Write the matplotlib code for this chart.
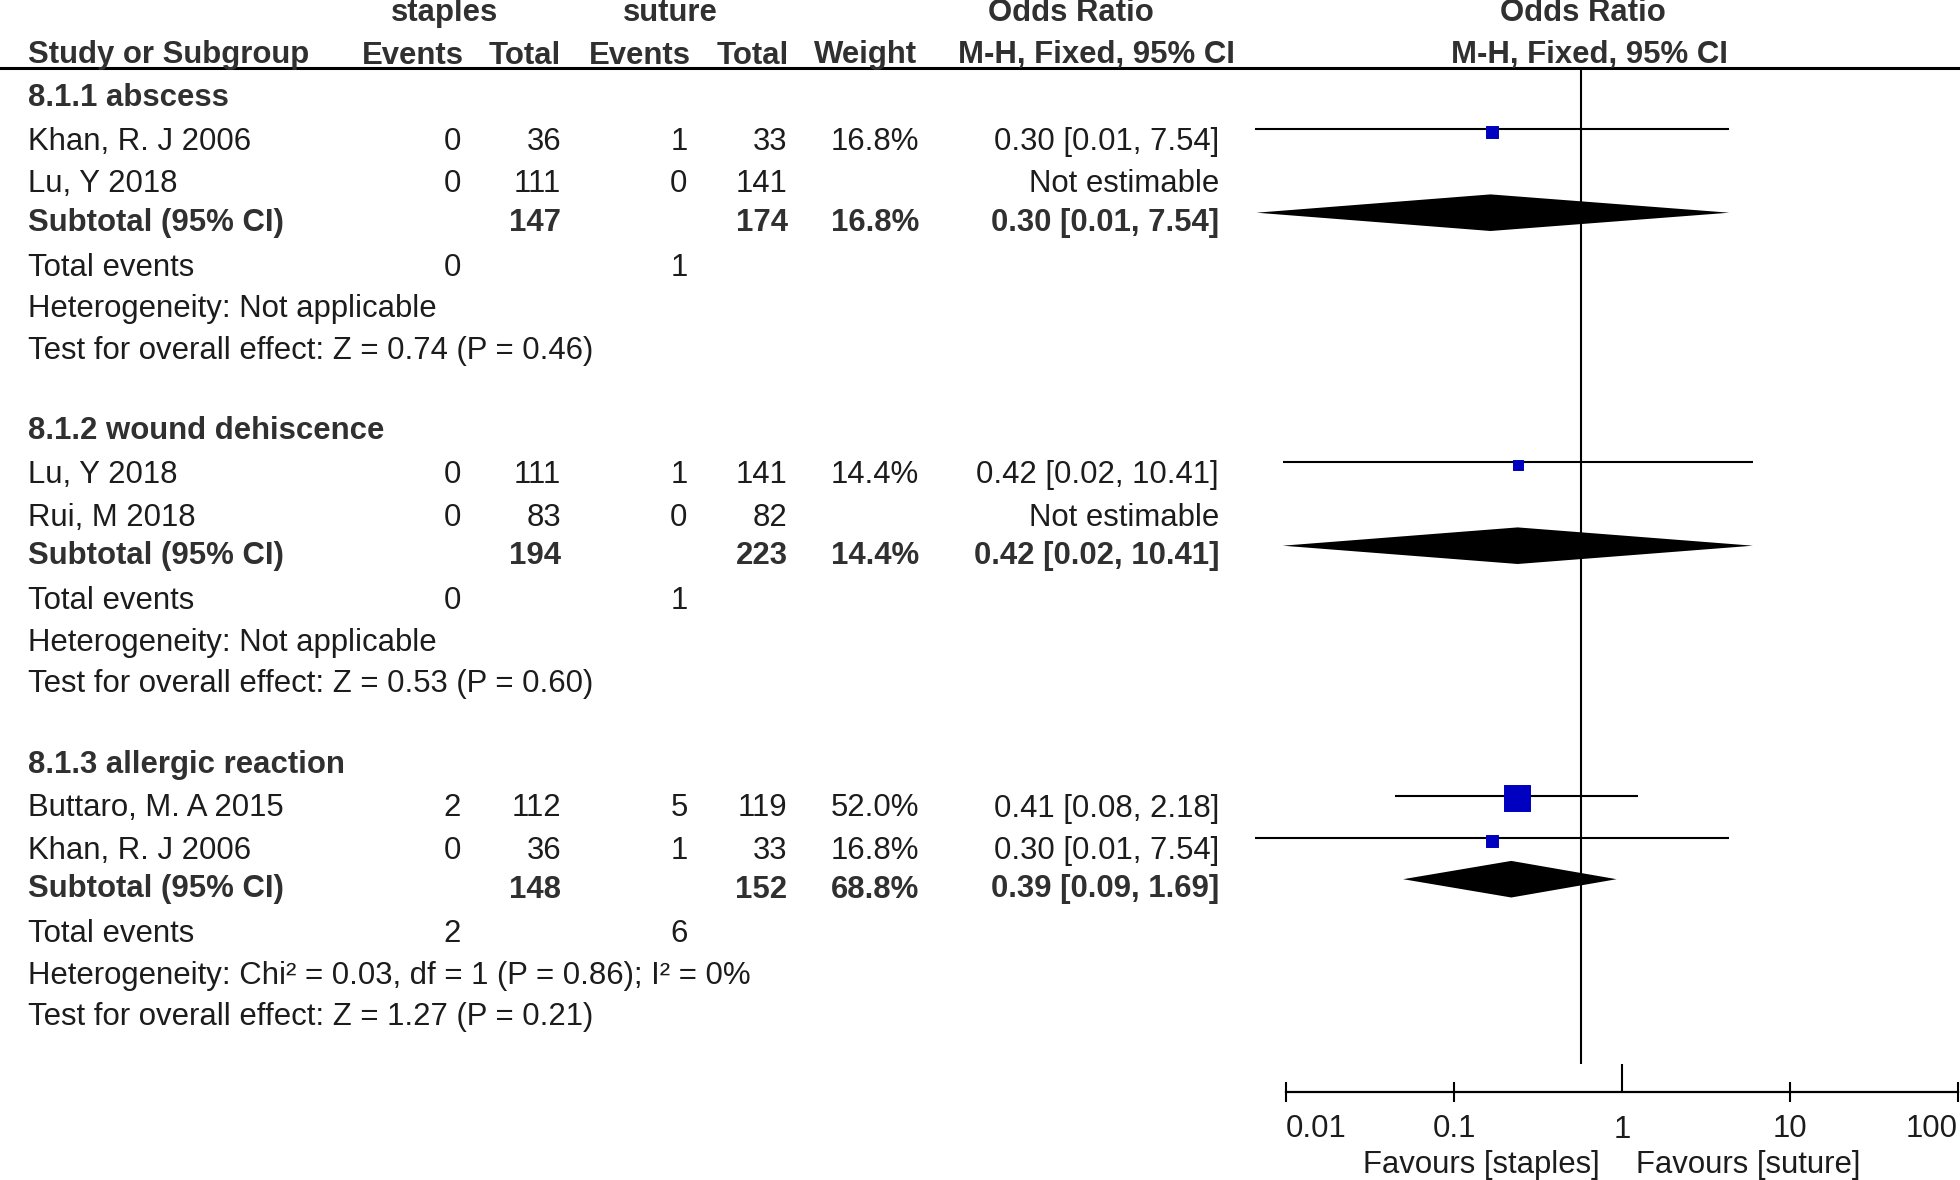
import matplotlib
matplotlib.use('Agg')
import matplotlib.pyplot as plt
from matplotlib.ticker import FixedLocator, FixedFormatter

plt.rcParams['font.family'] = ['Liberation Sans', 'DejaVu Sans']

# --- data ---
group_titles = ['8.1.1 abscess', '8.1.2 wound dehiscence', '8.1.3 allergic reaction']

study_group = [0, 0, 1, 1, 2, 2]
study_label = ['Khan, R. J 2006', 'Lu, Y 2018', 'Lu, Y 2018', 'Rui, M 2018',
               'Buttaro, M. A 2015', 'Khan, R. J 2006']
staples_events = [0, 0, 0, 0, 2, 0]
staples_total = [36, 111, 111, 83, 112, 36]
suture_events = [1, 0, 1, 0, 5, 1]
suture_total = [33, 141, 141, 82, 119, 33]
study_weight = [16.8, None, 14.4, None, 52.0, 16.8]
study_or = [0.297, None, 0.42, None, 0.414, 0.297]
study_lo = [0.0117, None, 0.0170, None, 0.079, 0.0117]
study_hi = [7.54, None, 10.41, None, 2.18, 7.54]
study_or_text = ['0.30 [0.01, 7.54]', 'Not estimable', '0.42 [0.02, 10.41]',
                 'Not estimable', '0.41 [0.08, 2.18]', '0.30 [0.01, 7.54]']

sub_staples_total = [147, 194, 148]
sub_suture_total = [174, 223, 152]
sub_weight = ['16.8%', '14.4%', '68.8%']
sub_or = [0.29, 0.42, 0.385]
sub_lo = [0.0119, 0.0170, 0.088]
sub_hi = [7.54, 10.41, 1.62]
sub_or_text = ['0.30 [0.01, 7.54]', '0.42 [0.02, 10.41]', '0.39 [0.09, 1.69]']
events_staples = [0, 0, 2]
events_suture = [1, 1, 6]
heterogeneity = ['Not applicable', 'Not applicable',
                 'Chi² = 0.03, df = 1 (P = 0.86); I² = 0%']
overall_test = ['Z = 0.74 (P = 0.46)', 'Z = 0.53 (P = 0.60)', 'Z = 1.27 (P = 0.21)']

scale_ticks = [0.01, 0.1, 10, 100]
scale_labels = ['0.01', '0.1', '10', '100']

# --- layout (pixels) ---
W, H = 1960, 1180
FS = 22.4
TEXT = '#1c1c1c'
BOLD_TEXT = '#303030'
BLUE = '#0000C0'
X_STUDY = 27.5
X_EV1, X_TOT1, X_EV2, X_TOT2, X_WEIGHT, X_OR = 461, 561, 687.5, 787.5, 919, 1219
group_top = [96, 429, 762.5]
block_offsets = [0, 44, 86.5, 125, 170, 211.5, 253]
BASE_DY = 10      # baseline below row centre
LINE_DY = 11      # CI line above row centre
BOX_DY = 8.5
DIAMOND_DY = 8.3
DIAMOND_H = 18.3

fig = plt.figure(figsize=(W / 100, H / 100), dpi=100)
tab = fig.add_axes([0, 0, 1, 1])
tab.set_xlim(0, W)
tab.set_ylim(H, 0)
tab.axis('off')

# forest panel: 0.01..100 on a log axis
fa = fig.add_axes([1243.75 / W, 0, 675 / W, 1])
fa.set_xscale('log')
fa.set_xlim(0.01, 100)
fa.set_ylim(H, 0)
fa.axis('off')
fa.patch.set_visible(False)


def txt(x, y, s, ha='left', bold=False, base=None):
    yb = y + BASE_DY if base is None else base
    tab.text(x, yb, s, ha=ha, va='baseline', fontsize=FS,
             color=BOLD_TEXT if bold else TEXT,
             fontweight='bold' if bold else 'normal')


# headers
txt(445, 0, 'staples', ha='center', bold=True, base=20.7)
txt(670, 0, 'suture', ha='center', bold=True, base=20.7)
txt(1071, 0, 'Odds Ratio', ha='center', bold=True, base=20.7)
txt(1583, 0, 'Odds Ratio', ha='center', bold=True, base=20.7)
txt(X_STUDY, 0, 'Study or Subgroup', bold=True, base=63.5)
txt(464, 0, 'Events', ha='right', bold=True, base=63.5)
txt(561, 0, 'Total', ha='right', bold=True, base=63.5)
txt(691, 0, 'Events', ha='right', bold=True, base=63.5)
txt(789, 0, 'Total', ha='right', bold=True, base=63.5)
txt(917.5, 0, 'Weight', ha='right', bold=True, base=63.5)
txt(1096, 0, 'M-H, Fixed, 95% CI', ha='center', bold=True, base=63.5)
txt(1589, 0, 'M-H, Fixed, 95% CI', ha='center', bold=True, base=63.5)
tab.axhline(67.5, color='black', lw=2.2)

for g in range(len(group_titles)):
    rows = [group_top[g] + o for o in block_offsets]
    txt(X_STUDY, rows[0], group_titles[g], bold=True)
    studies = [i for i in range(len(study_label)) if study_group[i] == g]
    for k, i in enumerate(studies):
        y = rows[1 + k]
        txt(X_STUDY, y, study_label[i])
        txt(X_EV1, y, str(staples_events[i]), ha='right')
        txt(X_TOT1, y, str(staples_total[i]), ha='right')
        txt(X_EV2, y, str(suture_events[i]), ha='right')
        txt(X_TOT2, y, str(suture_total[i]), ha='right')
        if study_weight[i] is not None:
            txt(X_WEIGHT, y, f'{study_weight[i]:.1f}%', ha='right')
            side = 1.77 * study_weight[i] ** 0.68 * 0.72
            fa.hlines(y - LINE_DY, study_lo[i], study_hi[i], color='black', lw=1.5)
            fa.scatter([study_or[i]], [y - BOX_DY], marker='s', s=side ** 2,
                       color=BLUE, edgecolors=BLUE, linewidths=0.7, zorder=3)
        txt(X_OR, y, study_or_text[i], ha='right')

    y = rows[3]
    txt(X_STUDY, y, 'Subtotal (95% CI)', bold=True)
    txt(X_TOT1, y, str(sub_staples_total[g]), ha='right', bold=True)
    txt(X_TOT2, y, str(sub_suture_total[g]), ha='right', bold=True)
    txt(X_WEIGHT, y, sub_weight[g], ha='right', bold=True)
    txt(X_OR, y, sub_or_text[g], ha='right', bold=True)
    yd = y - DIAMOND_DY
    fa.fill([sub_lo[g], sub_or[g], sub_hi[g], sub_or[g]],
            [yd, yd - DIAMOND_H, yd, yd + DIAMOND_H], color='black', lw=0, zorder=3)

    txt(X_STUDY, rows[4], 'Total events')
    txt(X_EV1, rows[4], str(events_staples[g]), ha='right')
    txt(X_EV2, rows[4], str(events_suture[g]), ha='right')
    txt(X_STUDY, rows[5], 'Heterogeneity: ' + heterogeneity[g])
    txt(X_STUDY, rows[6], 'Test for overall effect: ' + overall_test[g])

fa.vlines(1, 67.5, 1064, color='black', lw=1.5, zorder=2)

# bottom scale
sc = fig.add_axes([1286 / W, (H - 1091.5) / H, (1958 - 1286) / W, 0.02])
sc.set_xscale('log')
sc.set_xlim(0.01, 100)
for s in ['top', 'left', 'right']:
    sc.spines[s].set_visible(False)
sc.spines['bottom'].set_linewidth(1.6)
sc.patch.set_visible(False)
sc.set_yticks([])
sc.xaxis.set_major_locator(FixedLocator(scale_ticks))
sc.xaxis.set_major_formatter(FixedFormatter(scale_labels))
sc.xaxis.set_minor_locator(FixedLocator([1]))
sc.xaxis.set_minor_formatter(FixedFormatter(['1']))
sc.tick_params(axis='x', which='major', direction='inout', length=14.4, width=1.5,
               pad=9, labelsize=FS, labelcolor=TEXT)
sc.tick_params(axis='x', which='minor', direction='in', length=20, width=1.5,
               pad=17.2, labelsize=FS, labelcolor=TEXT)
ticks = sc.xaxis.get_major_ticks()
ticks[0].label1.set_horizontalalignment('left')
ticks[-1].label1.set_horizontalalignment('right')

sc.annotate('Favours [staples]', xy=(1, 0), xycoords=('data', 'axes fraction'),
            xytext=(-16, -59), textcoords='offset points', ha='right', va='baseline',
            fontsize=FS, color=TEXT)
sc.annotate('Favours [suture]', xy=(1, 0), xycoords=('data', 'axes fraction'),
            xytext=(10.2, -59), textcoords='offset points', ha='left', va='baseline',
            fontsize=FS, color=TEXT)

fig.savefig('out.png', dpi=100)
